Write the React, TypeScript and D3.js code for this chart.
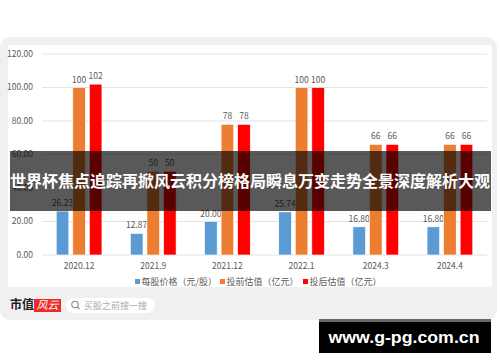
import * as d3 from 'd3';

// chart data
const categories = ['2020.12', '2021.9', '2021.12', '2022.1', '2024.3', '2024.4'];
const seriesNames = ['每股价格（元/股）', '投前估值（亿元）', '投后估值（亿元）'];
const pricePerShare = [26.23, 12.87, 20.0, 25.74, 16.8, 16.8];
const preMoney = [100, 50, 78, 100, 66, 66];
const postMoney = [102, 50, 78, 100, 66, 66];
const yTicks = [0, 20, 40, 60, 80, 100, 120];

const colors = ['#5B9BD5', '#ED7D31', '#FF0000'];
const FONT = '"Noto Sans CJK SC", "Noto Sans", sans-serif';

const W = 500;
const H = 362;

const App: React.FC = () => {
  const x = d3.scaleBand<string>().domain(categories).range([42, 487]).padding(0);
  const inner = d3
    .scaleBand<string>()
    .domain(seriesNames)
    .range([0, x.bandwidth()])
    .paddingInner(0.24)
    .paddingOuter(0.86);
  const y = d3.scaleLinear().domain([0, 120]).range([255, 54]);

  const series = [pricePerShare, preMoney, postMoney];
  const fmt2 = d3.format('.2f');

  const legendX = [135, 220, 303];

  // faint diagonal watermarks
  const marks = [
    [70, 110], [200, 80], [340, 120], [440, 90],
    [120, 250], [270, 240], [420, 250], [190, 305],
  ];

  return (
    <svg
      width={W}
      height={H}
      style={{ position: 'absolute', left: 0, top: 0, background: '#fff' }}
      fontFamily={FONT}
    >
      {/* gray card */}
      <rect x={0} y={37} width={497} height={283} rx={10} fill="#f0f0f0" />
      {/* white chart panel */}
      <rect x={8} y={45} width={484} height={242} rx={3} fill="#ffffff" />

      {/* grid + y labels */}
      {yTicks.map((t) => (
        <g key={t}>
          <line x1={42} x2={487} y1={y(t)} y2={y(t)} stroke="#e3e3e3" strokeWidth={1} />
          <text
            x={33}
            y={y(t)}
            dy="0.35em"
            textAnchor="end"
            fontSize={8.5}
            fill="#595959"
          >
            {fmt2(t)}
          </text>
        </g>
      ))}

      {/* bars */}
      {categories.map((c, i) => (
        <g key={c} transform={`translate(${x(c)},0)`}>
          {series.map((s, k) => {
            const bx = inner(seriesNames[k]) ?? 0;
            const v = s[i];
            return (
              <g key={k}>
                <rect
                  x={bx}
                  y={y(v)}
                  width={inner.bandwidth()}
                  height={y(0) - y(v)}
                  fill={colors[k]}
                  stroke="#ffffff"
                  strokeWidth={0.6}
                />
                <text
                  x={bx + inner.bandwidth() / 2}
                  y={y(v) - 5}
                  textAnchor="middle"
                  fontSize={8.5}
                  fill="#595959"
                >
                  {k === 0 ? fmt2(v) : d3.format('d')(v)}
                </text>
              </g>
            );
          })}
          <text
            x={x.bandwidth() / 2}
            y={266}
            dy="0.35em"
            textAnchor="middle"
            fontSize={8.5}
            fill="#595959"
          >
            {c}
          </text>
        </g>
      ))}

      {/* legend */}
      {seriesNames.map((n, k) => (
        <g key={n}>
          <rect x={legendX[k]} y={279} width={5} height={5} fill={colors[k]} />
          <text x={legendX[k] + 6.5} y={281.5} dy="0.35em" fontSize={9} fill="#595959">
            {n}
          </text>
        </g>
      ))}

      {/* watermarks */}
      {marks.map(([mx, my], i) => (
        <text
          key={i}
          transform={`translate(${mx},${my}) rotate(-40)`}
          fontSize={24}
          fill="#000"
          fillOpacity={0.025}
          textAnchor="middle"
        >
          市值风云
        </text>
      ))}

      {/* title banner */}
      <rect x={10} y={151} width={481} height={60} fill="#000" fillOpacity={0.65} />
      <text
        x={250}
        y={182}
        dy="0.35em"
        textAnchor="middle"
        fontSize={15.5}
        fontWeight="bold"
        fill="#ffffff"
        textLength={480}
        lengthAdjust="spacingAndGlyphs"
      >
        世界杯焦点追踪再掀风云积分榜格局瞬息万变走势全景深度解析大观
      </text>

      {/* footer logo */}
      <text x={10} y={305} dy="0.35em" fontSize={12} fontWeight="bold" fill="#222">
        市值
      </text>
      <rect x={34} y={299} width={27} height={13} fill="#ee2a2a" />
      <text
        x={47.5}
        y={305.5}
        dy="0.35em"
        textAnchor="middle"
        fontSize={11}
        fontStyle="italic"
        fill="#ffffff"
      >
        风云
      </text>
      <rect x={66} y={298} width={89} height={15} rx={7.5} fill="#ffffff" />
      <circle cx={75} cy={304.5} r={3.2} fill="none" stroke="#888" strokeWidth={1.1} />
      <line x1={77.3} y1={306.8} x2={79.5} y2={309} stroke="#888" strokeWidth={1.1} />
      <text x={84} y={305.5} dy="0.35em" fontSize={9} fill="#aaa">
        买股之前搜一搜
      </text>

      {/* site badge */}
      <rect x={319} y={319} width={172} height={34} fill="#000" />
      <rect x={319} y={319} width={172} height={3} fill="#666" />
      <text
        x={404}
        y={337}
        dy="0.35em"
        textAnchor="middle"
        fontSize={17}
        fontWeight="bold"
        fontFamily='"Liberation Sans", Arial, sans-serif'
        fill="#ffffff"
        textLength={151}
        lengthAdjust="spacingAndGlyphs"
      >
        www.g-pg.com.cn
      </text>
    </svg>
  );
};

export default App;
